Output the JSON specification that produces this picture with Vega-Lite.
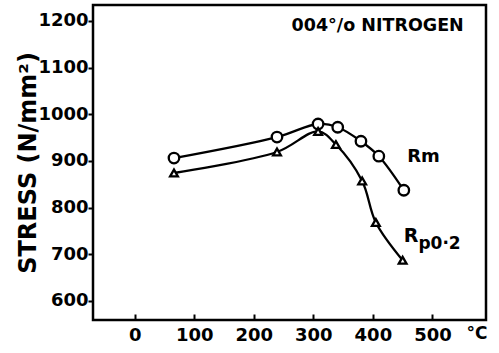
{
  "$schema": "https://vega.github.io/schema/vega-lite/v6.json",
  "width": 393,
  "height": 315,
  "autosize": "none",
  "padding": {"left": 93, "top": 5, "right": 13, "bottom": 33},
  "background": "white",
  "config": {
    "view": {"stroke": "black", "strokeWidth": 2.5},
    "font": "DejaVu Sans"
  },
  "datasets": {
    "curves": [
      {"series": "Rm", "temp": 66, "stress": 906},
      {"series": "Rm", "temp": 239, "stress": 951},
      {"series": "Rm", "temp": 308, "stress": 979},
      {"series": "Rm", "temp": 341, "stress": 972},
      {"series": "Rm", "temp": 380, "stress": 942},
      {"series": "Rm", "temp": 410, "stress": 910},
      {"series": "Rm", "temp": 452, "stress": 837},
      {"series": "Rp0.2", "temp": 66, "stress": 874},
      {"series": "Rp0.2", "temp": 239, "stress": 919},
      {"series": "Rp0.2", "temp": 308, "stress": 963},
      {"series": "Rp0.2", "temp": 338, "stress": 935},
      {"series": "Rp0.2", "temp": 382, "stress": 857},
      {"series": "Rp0.2", "temp": 405, "stress": 768},
      {"series": "Rp0.2", "temp": 450, "stress": 687}
    ],
    "labels": [
      {"text": "004°/o NITROGEN", "temp": 408, "stress": 1188, "size": 17.5},
      {"text": "Rm", "temp": 485, "stress": 908, "size": 18},
      {"text": "R", "temp": 464, "stress": 740, "size": 19},
      {"text": "p0·2", "temp": 512, "stress": 722, "size": 17},
      {"text": "°C", "temp": 575, "stress": 529, "size": 17}
    ]
  },
  "layer": [
    {
      "data": {"name": "curves"},
      "mark": {"type": "line", "interpolate": "catmull-rom", "color": "black", "strokeWidth": 2.3},
      "encoding": {
        "x": {
          "field": "temp", "type": "quantitative",
          "scale": {"domain": [-70, 590], "nice": false, "zero": false},
          "axis": {
            "values": [0, 100, 200, 300, 400, 500],
            "grid": false, "domain": false, "title": null, "format": "d",
            "tickSize": -6, "tickWidth": 2, "tickColor": "black",
            "labelFontSize": 18, "labelFontWeight": "bold", "labelColor": "black",
            "labelPadding": 12, "labelFont": "DejaVu Sans"
          }
        },
        "y": {
          "field": "stress", "type": "quantitative",
          "scale": {"domain": [559, 1234], "nice": false, "zero": false},
          "axis": {
            "values": [600, 700, 800, 900, 1000, 1100, 1200],
            "grid": false, "domain": false, "format": "d",
            "title": "STRESS (N/mm²)",
            "titleFontSize": 24, "titleFontWeight": "bold", "titleColor": "black",
            "titleFont": "DejaVu Sans", "titlePadding": -3,
            "tickSize": 5, "tickWidth": 2, "tickColor": "black",
            "labelFontSize": 18, "labelFontWeight": "bold", "labelColor": "black",
            "labelPadding": 0, "labelFont": "DejaVu Sans"
          }
        },
        "detail": {"field": "series"}
      }
    },
    {
      "data": {"name": "curves"},
      "transform": [{"filter": "datum.series === 'Rm'"}],
      "mark": {"type": "point", "shape": "circle", "size": 110, "filled": true, "fill": "white", "stroke": "black", "strokeWidth": 2.3, "opacity": 1},
      "encoding": {
        "x": {"field": "temp", "type": "quantitative"},
        "y": {"field": "stress", "type": "quantitative"}
      }
    },
    {
      "data": {"name": "curves"},
      "transform": [{"filter": "datum.series === 'Rp0.2'"}],
      "mark": {"type": "point", "shape": "triangle-up", "size": 60, "filled": true, "fill": "white", "stroke": "black", "strokeWidth": 2.3, "opacity": 1},
      "encoding": {
        "x": {"field": "temp", "type": "quantitative"},
        "y": {"field": "stress", "type": "quantitative"}
      }
    },
    {
      "data": {"name": "labels"},
      "mark": {"type": "text", "fontWeight": "bold", "color": "black", "align": "center", "baseline": "middle", "font": "DejaVu Sans"},
      "encoding": {
        "x": {"field": "temp", "type": "quantitative"},
        "y": {"field": "stress", "type": "quantitative"},
        "text": {"field": "text"},
        "size": {"field": "size", "type": "quantitative", "scale": null}
      }
    }
  ]
}
